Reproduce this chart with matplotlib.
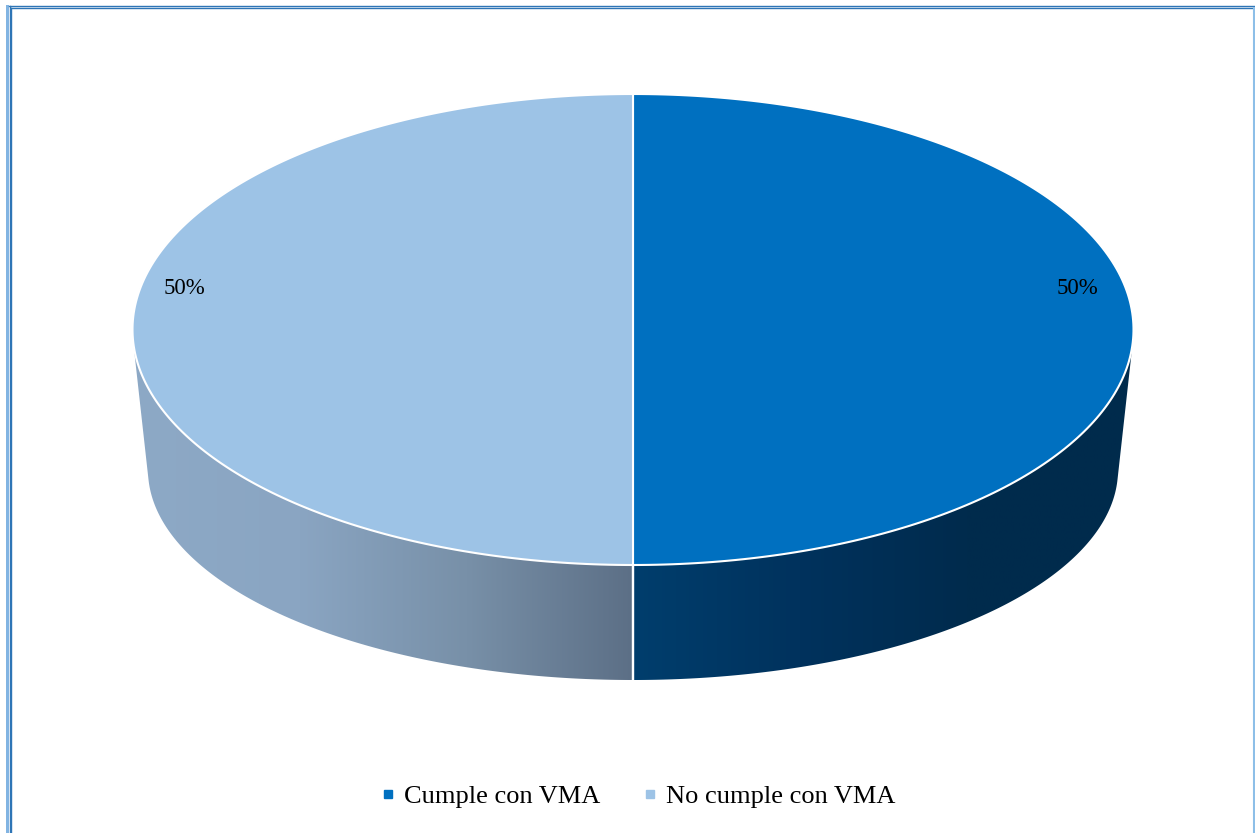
import numpy as np
import matplotlib.pyplot as plt
from matplotlib.patches import Polygon, Rectangle
from matplotlib.lines import Line2D
from matplotlib.colors import LinearSegmentedColormap

plt.rcParams['font.family'] = ['Liberation Serif', 'DejaVu Serif']

# data
categories = ['Cumple con VMA', 'No cumple con VMA']
shares = [50, 50]
top_colors = ['#0070C0', '#9DC3E6']
side_stops = [
    ['#013E6D', '#00325D', '#002B4D', '#002B4C'],
    ['#5C6F86', '#7890A8', '#8AA5C2', '#8DA9C6'],
]

W, H = 1255, 833
fig = plt.figure(figsize=(W / 100, H / 100), dpi=100)
ax = fig.add_axes([0, 0, 1, 1])

# pie geometry (pixels, y grows downward)
cx, cy, a, b = 633, 329.5, 500.5, 235.5
cy2, a2, b2 = 470, 485, 210


def arc(t0, t1, cx_, cy_, a_, b_, n=200):
    t = np.radians(np.linspace(t0, t1, n))
    return np.column_stack([cx_ + a_ * np.cos(t), cy_ - b_ * np.sin(t)])


def hull(pts):
    # monotone chain convex hull
    pts = sorted(map(tuple, pts))

    def half(seq):
        out = []
        for p in seq:
            while len(out) >= 2:
                (x1, y1), (x2, y2) = out[-2], out[-1]
                if (x2 - x1) * (p[1] - y1) - (y2 - y1) * (p[0] - x1) <= 0:
                    out.pop()
                else:
                    break
            out.append(p)
        return out

    lower = half(pts)
    upper = half(pts[::-1])
    return np.array(lower[:-1] + upper[:-1])


total = float(sum(shares))
start = 90.0
spans = []
for v in shares:
    end = start - 360.0 * v / total
    spans.append((start, end))
    start = end

# side walls, only the front half (180..360 deg) is visible
for i, (t0, t1) in enumerate(spans):
    lo, hi = min(t0, t1), max(t0, t1)
    while lo < 0:
        lo += 360
        hi += 360
    s0, s1 = max(lo, 180), min(hi, 360)
    if s1 <= s0:
        continue
    pts = hull(np.vstack([arc(s0, s1, cx, cy, a, b), arc(s0, s1, cx, cy2, a2, b2)]))
    poly = Polygon(pts, closed=True, facecolor='none', edgecolor='none')
    ax.add_patch(poly)
    x0, x1 = pts[:, 0].min(), pts[:, 0].max()
    cmap = LinearSegmentedColormap.from_list('side%d' % i, side_stops[i])
    grad = np.linspace(0, 1, 256)[None, :]
    if pts[:, 0].mean() < cx:
        grad = grad[:, ::-1]
    im = ax.imshow(grad, extent=[x0, x1, pts[:, 1].max(), pts[:, 1].min()],
                   cmap=cmap, aspect='auto', interpolation='bilinear', zorder=1)
    im.set_clip_path(poly)

# divider on the side wall
for t0, t1 in spans:
    for t in (t0, t1):
        tr = np.radians(t)
        if np.sin(tr) < -0.999:
            ax.plot([cx + a * np.cos(tr), cx + a2 * np.cos(tr)],
                    [cy - b * np.sin(tr), cy2 - b2 * np.sin(tr)],
                    color='white', lw=1.6, zorder=3)

# top face
for i, (t0, t1) in enumerate(spans):
    pts = np.vstack([[cx, cy], arc(t0, t1, cx, cy, a, b)])
    ax.add_patch(Polygon(pts, closed=True, facecolor=top_colors[i],
                         edgecolor='white', lw=1.5, zorder=4))

# percentage labels
label_pos = [(1077, 289), (184, 289)]
for (x, y), v in zip(label_pos, shares):
    ax.text(x, y, '%d%%' % round(100 * v / total), fontsize=16.5,
            ha='center', va='center', color='black', zorder=5)

ax.set_xlim(0, W)
ax.set_ylim(H, 0)
ax.axis('off')

# legend
handles = [Line2D([], [], marker='s', linestyle='none', markersize=6,
                  markerfacecolor=c, markeredgecolor=c) for c in top_colors]
fig.legend(handles, categories, loc='center', ncol=2, frameon=False,
           bbox_to_anchor=(0.508, 1 - 796 / H), fontsize=19,
           handlelength=0.6, handletextpad=0.3, columnspacing=1.6)

# page border
fig.add_artist(Rectangle((6 / W, 0), 3 / W, (H - 5) / H, transform=fig.transFigure,
                         facecolor='#82B4E2', edgecolor='none'))
for x in (9.5, 11.5):
    top_y = 5.5 if x == 9.5 else 7.5
    fig.add_artist(Line2D([x / W, x / W], [0, 1 - top_y / H],
                          transform=fig.transFigure, color='#2E75B6', lw=1.0))
fig.add_artist(Line2D([9 / W, 1], [1 - 5.5 / H, 1 - 5.5 / H],
                      transform=fig.transFigure, color='#2E75B6', lw=1.0))
fig.add_artist(Line2D([11 / W, 1253 / W], [1 - 7.5 / H, 1 - 7.5 / H],
                      transform=fig.transFigure, color='#2E75B6', lw=1.0))
fig.add_artist(Line2D([1253.5 / W, 1253.5 / W], [0, 1 - 7.5 / H],
                      transform=fig.transFigure, color='#8DBFE8', lw=1.5))

fig.savefig('out.png', dpi=100)
